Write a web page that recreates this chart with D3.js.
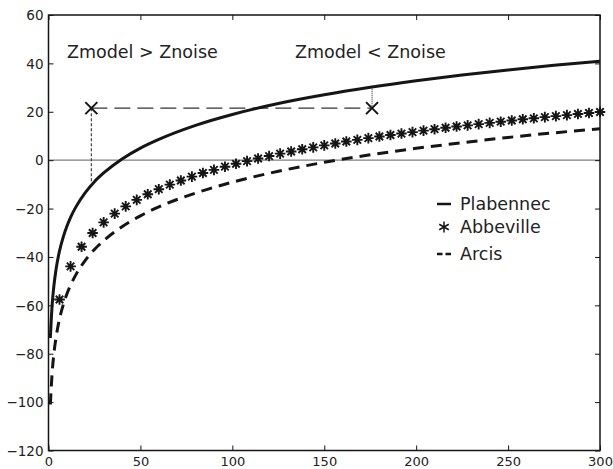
<!DOCTYPE html>
<html><head><meta charset="utf-8">
<script src="https://cdn.jsdelivr.net/npm/d3@7"></script>
<style>html,body{margin:0;padding:0;background:#fff;}svg{display:block;}</style>
</head><body>
<script>
const xTicks = [0, 50, 100, 150, 200, 250, 300];
const yTicks = [-120, -100, -80, -60, -40, -20, 0, 20, 40, 60];

const plabX = [1,2,3,4,5,6,8,10,12,15,20,25,30,40,50,60,80,100,125,150,175,200,225,250,275,300];
const plabY = [-73.5,-59.6,-51.5,-45.7,-41.2,-37.5,-31.8,-27.3,-23.6,-19.2,-13.4,-8.9,-5.3,0.5,5.0,8.6,14.4,18.9,23.4,27.0,30.1,32.8,35.2,37.3,39.2,40.9];

const arcisX = [1,2,3,4,5,6,8,10,12,15,20,25,30,40,50,60,80,100,125,150,175,200,225,250,275,300];
const arcisY = [-101,-87.7,-79.5,-73.8,-69.3,-65.6,-59.8,-55.3,-51.7,-47.2,-41.4,-36.9,-33.3,-27.5,-23.0,-19.3,-13.6,-9.1,-4.6,-0.9,2.2,4.9,7.2,9.4,11.3,13.0];

const abbX = [6,12,18,24,30,36,42,48,54,60,66,72,78,84,90,96,102,108,114,120,126,132,138,144,150,156,162,168,174,180,186,192,198,204,210,216,222,228,234,240,246,252,258,264,270,276,282,288,294,300];
const abbY = [-57.6,-43.9,-35.8,-30.1,-25.7,-22.1,-19.1,-16.4,-14.1,-12.0,-10.1,-8.4,-6.8,-5.3,-4.0,-2.7,-1.5,-0.4,0.7,1.7,2.7,3.6,4.5,5.3,6.1,6.9,7.7,8.4,9.1,9.8,10.4,11.0,11.6,12.2,12.8,13.4,13.9,14.4,14.9,15.4,15.9,16.4,16.9,17.3,17.8,18.2,18.6,19.1,19.5,19.9];

const crossX = [23.3, 176];
const crossY = [21.5, 21.5];
const crossCurveY = [-9, 30.3];

const legendNames = ["Plabennec", "Abbeville", "Arcis"];
const annotations = ["Zmodel > Znoise", "Zmodel < Znoise"];

const W = 613, H = 469;
const svg = d3.select("body").append("svg").attr("width", W).attr("height", H);
const x = d3.scaleLinear().domain([0, 300]).range([48.5, 600]);
const y = d3.scaleLinear().domain([-120, 60]).range([450.5, 15]);
const ink = "#151515";
const font = "DejaVu Sans, sans-serif";

// zero line
svg.append("line").attr("x1", x(0)).attr("x2", x(300)).attr("y1", y(0)).attr("y2", y(0))
  .attr("stroke", "#000").attr("stroke-width", 1.2).attr("stroke-dasharray", "1,1");

// annotation lines
svg.append("line").attr("x1", x(crossX[0])).attr("x2", x(crossX[1])).attr("y1", y(crossY[0])).attr("y2", y(crossY[1]))
  .attr("stroke", "#333").attr("stroke-width", 1.4).attr("stroke-dasharray", "16,7");
svg.append("line").attr("x1", x(crossX[0])).attr("x2", x(crossX[0])).attr("y1", y(crossY[0])).attr("y2", y(crossCurveY[0]))
  .attr("stroke", "#333").attr("stroke-width", 1.1).attr("stroke-dasharray", "3,2");
svg.append("line").attr("x1", x(crossX[1])).attr("x2", x(crossX[1])).attr("y1", y(crossY[1])).attr("y2", y(crossCurveY[1]))
  .attr("stroke", "#333").attr("stroke-width", 1.1).attr("stroke-dasharray", "1,1");
crossX.forEach((cx, i) => {
  const px = x(cx), py = y(crossY[i]), s = 6;
  svg.append("path").attr("d", `M${px-s},${py-s}L${px+s},${py+s}M${px-s},${py+s}L${px+s},${py-s}`)
    .attr("stroke", ink).attr("stroke-width", 2).attr("fill", "none");
});

const line = d3.line().x(d => x(d[0])).y(d => y(d[1])).curve(d3.curveMonotoneX);
svg.append("path").datum(plabX.map((v, i) => [v, plabY[i]])).attr("d", line)
  .attr("fill", "none").attr("stroke", ink).attr("stroke-width", 3);
svg.append("path").datum(arcisX.map((v, i) => [v, arcisY[i]])).attr("d", line)
  .attr("fill", "none").attr("stroke", ink).attr("stroke-width", 3).attr("stroke-dasharray", "11,7");

function star(px, py, r, spokes) {
  let d = "";
  for (let k = 0; k < spokes / 2; k++) {
    const a = Math.PI * k / (spokes / 2) + (spokes === 6 ? Math.PI / 2 : 0);
    d += `M${px - r * Math.cos(a)},${py - r * Math.sin(a)}L${px + r * Math.cos(a)},${py + r * Math.sin(a)}`;
  }
  return d;
}
svg.append("g").selectAll("path").data(abbX.map((v, i) => [v, abbY[i]])).join("path")
  .attr("d", d => star(x(d[0]), y(d[1]), 5.3, 8))
  .attr("stroke", ink).attr("stroke-width", 1.9).attr("fill", "none");

// axes box
svg.append("rect").attr("x", x(0)).attr("y", y(60)).attr("width", x(300) - x(0)).attr("height", y(-120) - y(60))
  .attr("fill", "none").attr("stroke", ink).attr("stroke-width", 1.5);

const tl = 5;
const gx = svg.append("g").attr("transform", `translate(0,${y(-120)})`)
  .call(d3.axisBottom(x).tickValues(xTicks).tickSize(-tl).tickPadding(6).tickFormat(d3.format("d")));
const gxt = svg.append("g").attr("transform", `translate(0,${y(60)})`)
  .call(d3.axisTop(x).tickValues(xTicks).tickSize(-tl).tickFormat(""));
const gy = svg.append("g").attr("transform", `translate(${x(0)},0)`)
  .call(d3.axisLeft(y).tickValues(yTicks).tickSize(-tl).tickPadding(5).tickFormat(d => d < 0 ? "\u2212" + Math.abs(d) : d));
const gyr = svg.append("g").attr("transform", `translate(${x(300)},0)`)
  .call(d3.axisRight(y).tickValues(yTicks).tickSize(-tl).tickFormat(""));
[gx, gxt, gy, gyr].forEach(g => {
  g.select(".domain").remove();
  g.selectAll(".tick line").attr("stroke", ink).attr("stroke-width", 1);
  g.selectAll("text").attr("fill", "#222").attr("font-family", font).attr("font-size", 13.5);
});
gx.selectAll("text").attr("font-size", 13);
gy.selectAll("text").attr("dy", "0.35em");

// annotations
svg.append("text").attr("x", 67).attr("y", 58).text(annotations[0])
  .attr("font-family", font).attr("font-size", 17.5).attr("fill", "#222");
svg.append("text").attr("x", 295).attr("y", 58).text(annotations[1])
  .attr("font-family", font).attr("font-size", 17.5).attr("fill", "#222");

// legend
const lx = 437, lys = [204, 227, 254];
legendNames.forEach((n, i) => {
  svg.append("text").attr("x", 460).attr("y", lys[i] + 6).text(n)
    .attr("font-family", font).attr("font-size", 17.5).attr("fill", "#222");
});
svg.append("line").attr("x1", lx).attr("x2", lx + 14).attr("y1", lys[0]).attr("y2", lys[0])
  .attr("stroke", ink).attr("stroke-width", 2.5);
svg.append("path").attr("d", star(lx + 7, lys[1], 5.5, 6)).attr("stroke", ink).attr("stroke-width", 1.5);
svg.append("line").attr("x1", lx).attr("x2", lx + 14).attr("y1", lys[2]).attr("y2", lys[2])
  .attr("stroke", ink).attr("stroke-width", 2.5).attr("stroke-dasharray", "5.5,3");
</script>
</body></html>
